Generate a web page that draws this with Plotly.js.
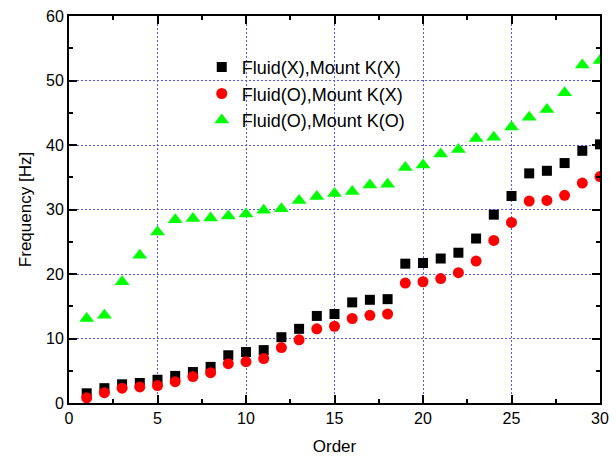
<!DOCTYPE html>
<html>
<head>
<meta charset="utf-8">
<script src="https://cdn.plot.ly/plotly-3.0.1.min.js"></script>
<style>html,body{margin:0;padding:0;background:#fff;}#chart{width:616px;height:459px;}</style>
</head>
<body>
<div id="chart"></div>
<script>
var order = [1,2,3,4,5,6,7,8,9,10,11,12,13,14,15,16,17,18,19,20,21,22,23,24,25,26,27,28,29,30];
var fluidXmountX = [1.5,2.3,2.9,3.1,3.6,4.2,4.8,5.6,7.4,7.9,8.2,10.2,11.5,13.5,13.8,15.6,16.0,16.1,21.6,21.7,22.4,23.3,25.5,29.2,32.1,35.6,36.0,37.2,39.1,40.1];
var fluidOmountX = [0.8,1.6,2.3,2.5,2.7,3.3,4.1,4.7,6.1,6.4,6.9,8.6,9.8,11.5,11.9,13.1,13.6,13.8,18.6,18.8,19.3,20.2,22.0,25.2,28.0,31.3,31.4,32.2,34.1,35.1];
var fluidOmountO = [13.1,13.6,18.8,22.9,26.5,28.4,28.6,28.7,29.0,29.3,29.9,30.1,31.4,32.0,32.5,32.8,33.8,33.9,36.5,36.9,38.6,39.3,41.0,41.2,42.8,44.3,45.5,48.1,52.4,53.1];
var names = ["Fluid(X),Mount K(X)","Fluid(O),Mount K(X)","Fluid(O),Mount K(O)"];

var traces = [
  {x: order, y: fluidXmountX, name: names[0], mode: 'markers', type: 'scatter',
   marker: {symbol: 'square', size: 10, color: '#000000'}},
  {x: order, y: fluidOmountX, name: names[1], mode: 'markers', type: 'scatter',
   marker: {symbol: 'circle', size: 11, color: '#ff0000'}},
  {x: order, y: fluidOmountO, name: names[2], mode: 'markers', type: 'scatter',
   marker: {symbol: 'triangle-up', size: 13, color: '#00ff00'}}
];

var FONT = 'Arial, "Liberation Sans", sans-serif';
var axisCommon = {
  showline: true, linecolor: '#000', linewidth: 2, mirror: 'ticks',
  ticks: 'inside', ticklen: 8, tickwidth: 1.5, tickcolor: '#000',
  showgrid: true, gridcolor: '#5555ff', griddash: '2px,2px', gridwidth: 1,
  zeroline: false,
  tickfont: {family: FONT, size: 16, color: '#000'}
};

var layout = {
  width: 616, height: 459,
  margin: {l: 69, r: 16, t: 16, b: 56},
  paper_bgcolor: '#fff', plot_bgcolor: '#fff',
  showlegend: true,
  legend: {x: 0.25, y: 0.915, xanchor: 'left', yanchor: 'top', bgcolor: 'rgba(0,0,0,0)',
           tracegroupgap: 0,
           font: {family: FONT, size: 18, color: '#000'}},
  xaxis: Object.assign({}, axisCommon, {
    range: [0, 30], tick0: 0, dtick: 5,
    minor: {dtick: 2.5, ticks: 'inside', ticklen: 4, tickcolor: '#000', showgrid: false},
    title: {text: 'Order', standoff: 14, font: {family: FONT, size: 17, color: '#000'}}
  }),
  yaxis: Object.assign({}, axisCommon, {
    range: [0, 60], tick0: 0, dtick: 10,
    minor: {dtick: 5, ticks: 'inside', ticklen: 4, tickcolor: '#000', showgrid: false},
    title: {text: 'Frequency [Hz]', standoff: 10, font: {family: FONT, size: 17, color: '#000'}}
  })
};

Plotly.newPlot('chart', traces, layout, {displayModeBar: false});
</script>
</body>
</html>
